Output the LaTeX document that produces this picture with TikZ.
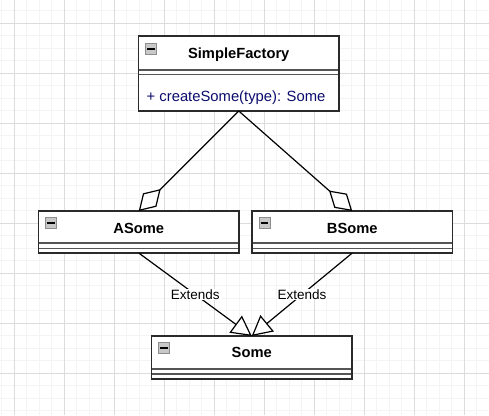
\documentclass[tikz,border=0pt]{standalone}
\usepackage{fontspec}
\setmainfont{Liberation Sans}
\usetikzlibrary{arrows.meta}
\definecolor{gridminor}{HTML}{F4F4F4}
\definecolor{gridmajor}{HTML}{DCDCDC}
\definecolor{methodblue}{HTML}{0B0B6E}
\definecolor{boxline}{HTML}{2A2A2A}
\definecolor{sepline}{HTML}{555555}
\definecolor{iconfill}{HTML}{C8C8C8}
\definecolor{iconline}{HTML}{8C8C8C}
\tikzset{
 classbox/.style={draw=boxline, line width=1.4pt, fill=white, anchor=north west, minimum width=200.5pt, inner sep=0pt, outer sep=0pt},
 titletext/.style={font=\fontsize{14.7}{17}\selectfont\bfseries, inner sep=0pt, anchor=base},
 method/.style={font=\fontsize{14.8}{17}\selectfont, text=methodblue, anchor=base west, inner sep=0pt},
 sepln/.style={draw=sepline, line width=1.6pt},
 icon/.style={draw=iconline, fill=iconfill, line width=0.8pt, minimum size=11pt, inner sep=0pt, anchor=north west},
 minusln/.style={draw=black, line width=1.5pt},
 conn/.style={draw=black, line width=1.2pt},
 agg/.style={conn, -{Diamond[length=31pt, width=19pt, fill=white]}},
 ext/.style={conn, -{Triangle[length=20pt, width=21pt, fill=white]}},
 lbl/.style={fill=white, font=\fontsize{13.5}{16}\selectfont, inner sep=1pt},
}
\begin{document}
\begin{tikzpicture}[x=1pt,y=-1pt]
\useasboundingbox (0,0) rectangle (489,415);
\fill[white] (0,0) rectangle (489,415);
% grid
\foreach \i in {0,...,39} \draw[gridminor, line width=0.8pt] ({1.8+12.5*\i},0) -- ({1.8+12.5*\i},415);
\foreach \j in {0,...,33} \draw[gridminor, line width=0.8pt] (0,{10.8+12.5*\j}) -- (489,{10.8+12.5*\j});
\foreach \i in {0,...,9} \draw[gridmajor, line width=0.8pt] ({14.3+50*\i},0) -- ({14.3+50*\i},415);
\foreach \j in {0,...,7} \draw[gridmajor, line width=0.8pt] (0,{23.3+50*\j}) -- (489,{23.3+50*\j});
% classes
\node[classbox, minimum height=75pt] (sf) at (138.5,36) {};
\node[classbox, minimum height=42pt] (as) at (38.5,211) {};
\node[classbox, minimum height=42pt] (bs) at (252,211) {};
\node[classbox, minimum height=43pt] (so) at (151.5,336) {};
% separators
\draw[sepln] ([yshift=-34pt]sf.north west) -- ([yshift=-34pt]sf.north east);
\draw[sepln] ([yshift=-38.5pt]sf.north west) -- ([yshift=-38.5pt]sf.north east);
\draw[sepln] ([yshift=-32pt]as.north west) -- ([yshift=-32pt]as.north east);
\draw[sepln] ([yshift=-37.3pt]as.north west) -- ([yshift=-37.3pt]as.north east);
\draw[sepln] ([yshift=-32pt]bs.north west) -- ([yshift=-32pt]bs.north east);
\draw[sepln] ([yshift=-37.3pt]bs.north west) -- ([yshift=-37.3pt]bs.north east);
\draw[sepln] ([yshift=-33pt]so.north west) -- ([yshift=-33pt]so.north east);
\draw[sepln] ([yshift=-37.8pt]so.north west) -- ([yshift=-37.8pt]so.north east);
% redraw borders on top
\draw[draw=boxline, line width=1.4pt] (sf.north west) rectangle (sf.south east);
\draw[draw=boxline, line width=1.4pt] (as.north west) rectangle (as.south east);
\draw[draw=boxline, line width=1.4pt] (bs.north west) rectangle (bs.south east);
\draw[draw=boxline, line width=1.4pt] (so.north west) rectangle (so.south east);
% titles
\node[titletext] (sft) at (238.75,58) {SimpleFactory};
\node[titletext] (ast) at (138.75,233.3) {ASome};
\node[titletext] (bst) at (352.25,233.3) {BSome};
\node[titletext] (sot) at (251.75,357.3) {Some};
\node[method] (sfm) at (146.5,101) {+ createSome(type): Some};
% icons
\foreach \n/\px/\py in {sfi/145/43, asi/45/217, bsi/258.5/217, soi/158/342} {
  \node[icon] (\n) at (\px,\py) {};
  \draw[minusln] ([xshift=2pt]\n.west) -- ([xshift=-2pt]\n.east);
}
% connectors
\draw[agg] (sf.south) -- (as.north);
\draw[agg] (sf.south) -- (bs.north);
\draw[ext] (as.south) -- node[lbl] (l1) {Extends} (so.north);
\draw[ext] (bs.south) -- node[lbl] (l2) {Extends} (so.north);
\end{tikzpicture}
\end{document}
